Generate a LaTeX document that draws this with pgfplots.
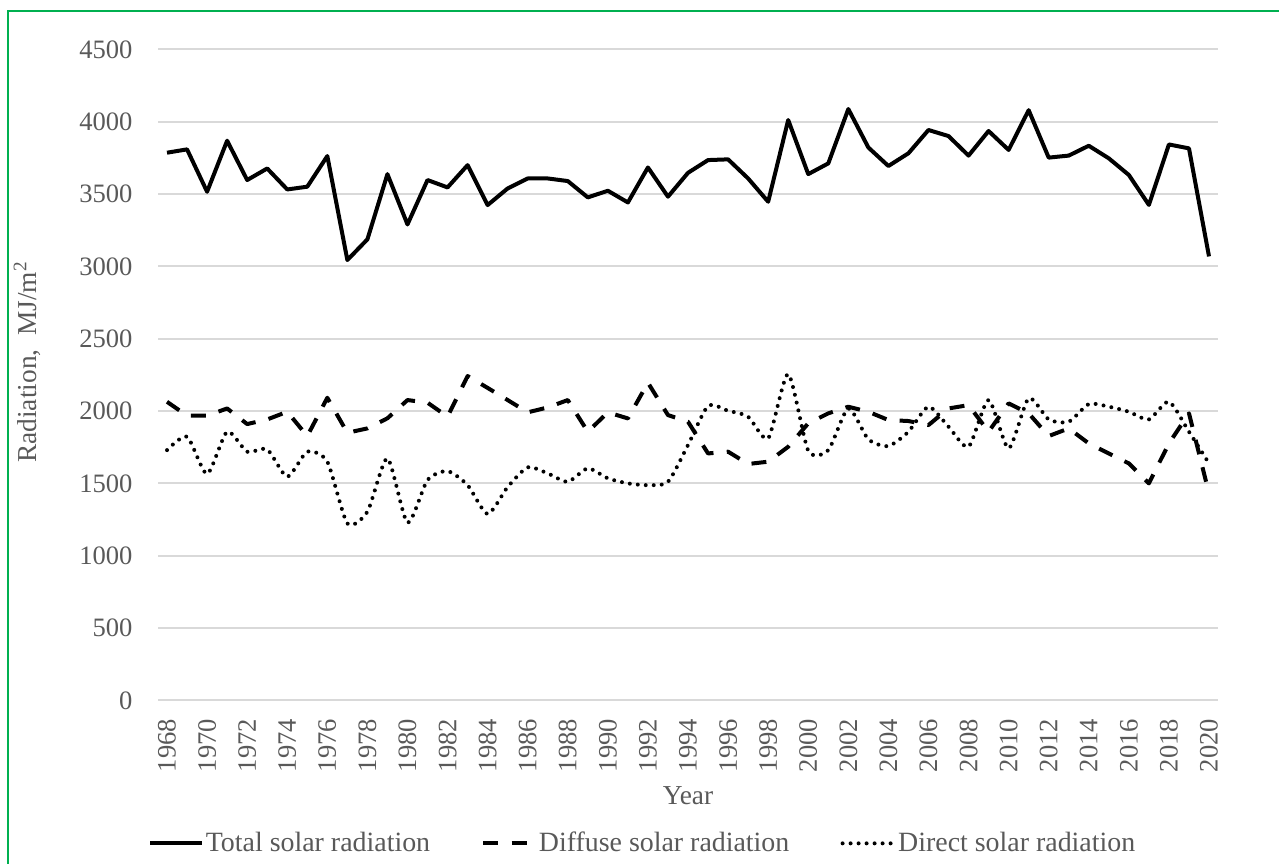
\documentclass[border=0pt]{standalone}
\usepackage{pgfplots}
\pgfplotsset{compat=1.18}
\usepackage{fontspec}
\setmainfont{Liberation Serif}
\definecolor{txt}{HTML}{595959}
\definecolor{gridc}{HTML}{D9D9D9}
\definecolor{frame}{HTML}{00B050}
\begin{document}
\fontsize{10}{12}\selectfont
\begin{tikzpicture}
\useasboundingbox (0,0) rectangle (479.625bp,323.625bp);
\draw[frame, line width=1.1bp] (3bp,-2bp) -- (3bp,319.5bp) -- (481bp,319.5bp);
\begin{axis}[
  at={(59.25bp,61.0bp)}, anchor=south west,
  scale only axis, width=397.5bp, height=244.1bp,
  xmin=1967.55, xmax=2020.45, ymin=0, ymax=4500,
  xtick={1968,1970,...,2020}, ytick={0,500,...,4500},
  /pgf/number format/1000 sep={},
  /pgf/number format/assume math mode=true,
  ymajorgrids, xmajorgrids=false, grid style={draw=gridc, line width=0.75bp},
  axis line style={draw=none}, major tick length=0pt,
  tick label style={color=txt, font=\fontsize{10}{12}\selectfont},
  yticklabel style={anchor=east, inner sep=0pt},
  yticklabel shift=9.4bp,
  xticklabel style={rotate=90, anchor=east, inner sep=0pt},
  xticklabel shift=6.75bp,
  xlabel={Year}, ylabel={Radiation,~ MJ/m\textsuperscript{2}},
  label style={color=txt, font=\fontsize{10.3}{12}\selectfont},
  xlabel style={at={(axis description cs:0.5,-0.1459)}, anchor=center},
  ylabel style={at={(axis description cs:-0.1236,0.52)}, anchor=center},
  legend columns=3,
  legend style={at={(axis description cs:0.4571,-0.2197)}, anchor=center, draw=none, fill=none,
    font=\fontsize{10.5}{12}\selectfont, text=txt, inner sep=0pt,
    /tikz/every even column/.append style={column sep=18.6bp},
    nodes={inner sep=0.6bp}},
  legend image code/.code={\draw[#1] (0bp,0bp) -- (19.5bp,0bp);},
]
\addplot[black, line width=1.5bp, line join=round] coordinates {
(1968,3786)(1969,3809)(1970,3516)(1971,3869)(1972,3597)(1973,3677)(1974,3532)(1975,3551)(1976,3763)(1977,3044)
(1978,3187)(1979,3638)(1980,3290)(1981,3597)(1982,3546)(1983,3700)(1984,3424)(1985,3539)(1986,3608)(1987,3608)
(1988,3590)(1989,3477)(1990,3523)(1991,3442)(1992,3684)(1993,3482)(1994,3647)(1995,3735)(1996,3740)(1997,3608)
(1998,3447)(1999,4012)(2000,3638)(2001,3712)(2002,4088)(2003,3822)(2004,3694)(2005,3782)(2006,3943)(2007,3901)
(2008,3766)(2009,3936)(2010,3805)(2011,4080)(2012,3752)(2013,3766)(2014,3834)(2015,3747)(2016,3632)(2017,3425)
(2018,3843)(2019,3816)(2020,3069)};
\addlegendentry{Total solar radiation}
\addplot[black, line width=1.5bp, line join=round, dash pattern=on 5.6bp off 5bp] coordinates {
(1968,2064)(1969,1968)(1970,1968)(1971,2018)(1972,1910)(1973,1942)(1974,1995)(1975,1827)(1976,2092)(1977,1850)
(1978,1880)(1979,1950)(1980,2076)(1981,2058)(1982,1961)(1983,2242)(1984,2160)(1985,2076)(1986,1991)(1987,2025)
(1988,2076)(1989,1857)(1990,1991)(1991,1949)(1992,2196)(1993,1972)(1994,1926)(1995,1707)(1996,1719)(1997,1634)
(1998,1650)(1999,1753)(2000,1915)(2001,1984)(2002,2030)(2003,1995)(2004,1938)(2005,1931)(2006,1903)(2007,2018)
(2008,2041)(2009,1857)(2010,2053)(2011,1984)(2012,1827)(2013,1880)(2014,1776)(2015,1707)(2016,1638)(2017,1500)
(2018,1776)(2019,1984)(2020,1431)};
\addlegendentry{Diffuse solar radiation\hspace{6bp}}
\addplot[black, line width=1.5bp, line cap=round, dash pattern=on 0bp off 3bp, smooth, tension=0.4] coordinates {
(1968,1730)(1969,1823)(1970,1565)(1971,1857)(1972,1719)(1973,1735)(1974,1546)(1975,1719)(1976,1650)(1977,1223)
(1978,1304)(1979,1673)(1980,1228)(1981,1523)(1982,1585)(1983,1488)(1984,1288)(1985,1475)(1986,1611)(1987,1569)
(1988,1511)(1989,1604)(1990,1535)(1991,1500)(1992,1488)(1993,1511)(1994,1765)(1995,2035)(1996,2002)(1997,1961)
(1998,1811)(1999,2256)(2000,1726)(2001,1730)(2002,2018)(2003,1805)(2004,1758)(2005,1857)(2006,2030)(2007,1892)
(2008,1753)(2009,2076)(2010,1742)(2011,2088)(2012,1942)(2013,1926)(2014,2048)(2015,2030)(2016,1995)(2017,1942)
(2018,2065)(2019,1857)(2020,1638)};
\addlegendentry{Direct solar radiation}
\end{axis}
\end{tikzpicture}
\end{document}
